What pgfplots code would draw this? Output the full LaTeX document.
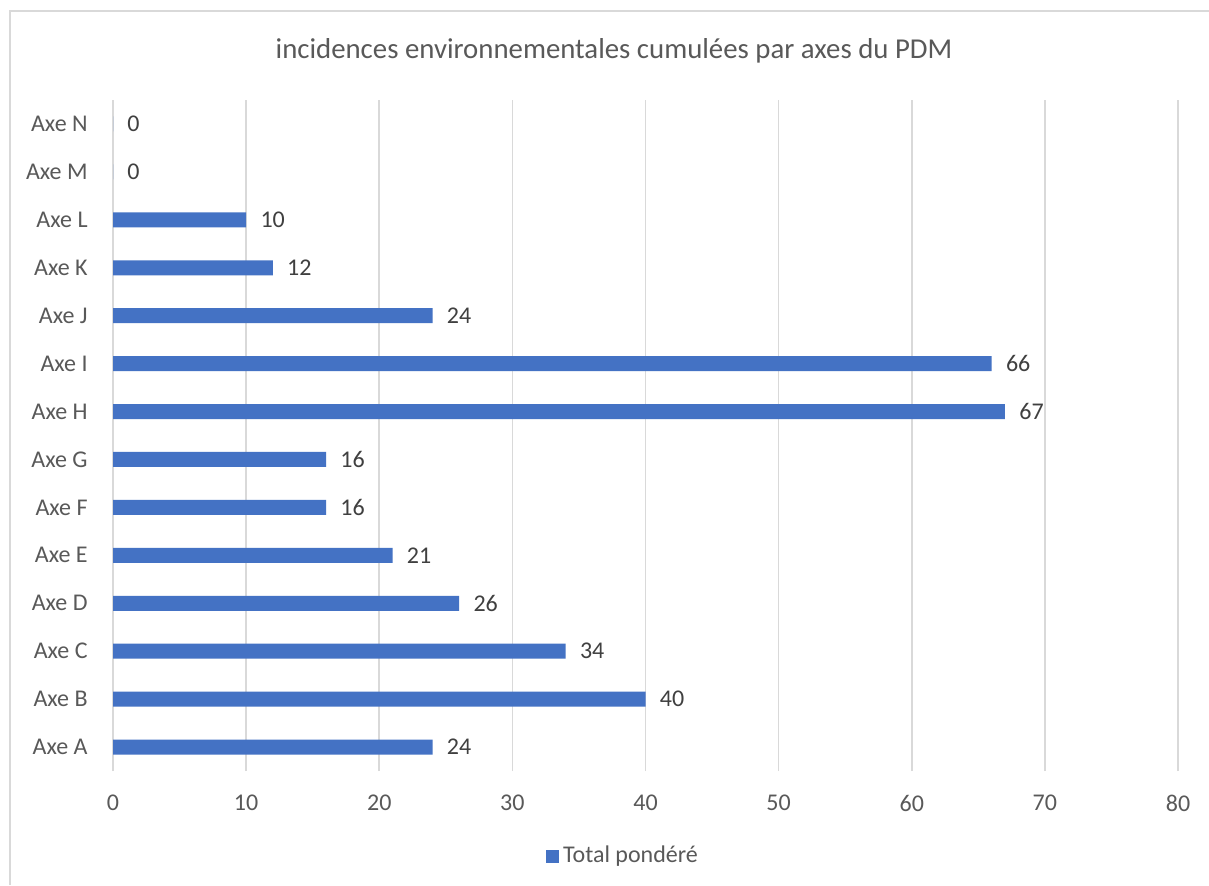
\documentclass[border=0pt]{standalone}
\usepackage{fontspec}
\setmainfont{Carlito}
\usepackage{pgfplots}
\pgfplotsset{compat=1.18}
\definecolor{barblue}{HTML}{4472C4}
\definecolor{txtgray}{HTML}{595959}
\definecolor{lblgray}{HTML}{404040}
\definecolor{gridgray}{HTML}{D9D9D9}
\begin{document}
\begin{tikzpicture}
\path[use as bounding box, fill=white] (0pt,0pt) rectangle (604.5pt,-442.5pt);
\draw[gridgray, line width=0.8pt] (5pt,-442.5pt) -- (5pt,-5.5pt) -- (604.5pt,-5.5pt);
\node[text=txtgray, font=\fontsize{14.4}{17}\selectfont, anchor=base, inner sep=0pt] at (307pt,-29pt) {incidences environnementales cumulées par axes du PDM};
\begin{axis}[
  at={(56.5pt,-385.5pt)}, anchor=south west,
  scale only axis, width=532.5pt, height=335.5pt,
  xbar, bar width=7.5pt,
  xmin=0, xmax=80, ymin=-0.5, ymax=13.5,
  xtick={0,10,...,80},
  ytick={0,...,13},
  yticklabels={Axe A,Axe B,Axe C,Axe D,Axe E,Axe F,Axe G,Axe H,Axe I,Axe J,Axe K,Axe L,Axe M,Axe N},
  xmajorgrids, major grid style={gridgray, line width=0.8pt},
  axis line style={draw=none},
  major tick length=0pt,
  /pgf/number format/assume math mode=true,
  every tick label/.append style={inner sep=0pt, text=txtgray, font=\fontsize{12}{14}\selectfont},
  xticklabel style={anchor=north, yshift=-12pt},
  yticklabel style={anchor=east, xshift=-12.5pt},
  nodes near coords,
  nodes near coords style={anchor=west, inner sep=0pt, xshift=7pt, text=lblgray, font=\fontsize{12}{14}\selectfont},
  legend style={at={(0.4798,-0.1267)}, anchor=center, draw=none, fill=none,
    font=\fontsize{12}{14}\selectfont, text=txtgray, inner sep=0pt,
    legend cell align=left},
  legend image code/.code={\fill[barblue] (0pt,-3.25pt) rectangle (6.5pt,3.25pt);},
]
\addplot[fill=barblue, draw=none] coordinates {
  (24,0) (40,1) (34,2) (26,3) (21,4) (16,5) (16,6) (67,7) (66,8) (24,9) (12,10) (10,11) (0,12) (0,13)
};
\addlegendentry{Total pondéré}
\end{axis}
\end{tikzpicture}
\end{document}
